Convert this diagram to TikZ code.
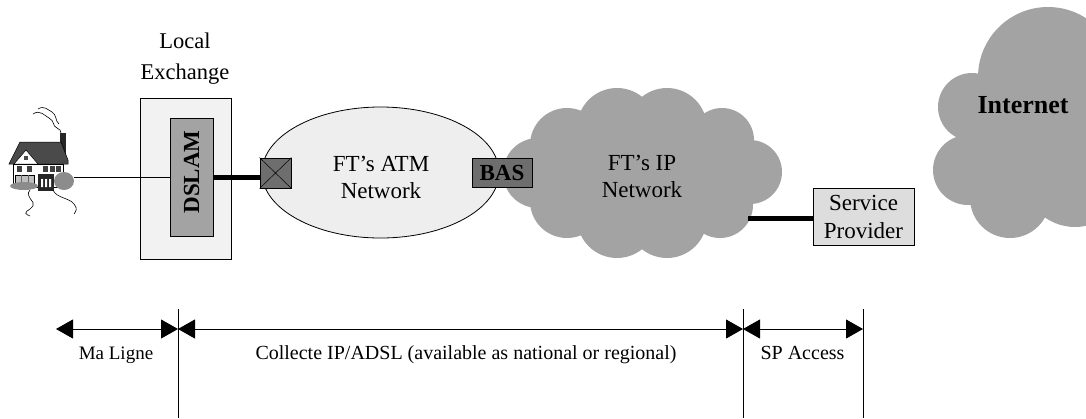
\documentclass[tikz,border=0pt]{standalone}
\usepackage{fontspec}
\setmainfont{Liberation Serif}
\usetikzlibrary{arrows.meta,shapes.geometric}

\definecolor{exfill}{HTML}{F2F2F2}
\definecolor{midgray}{HTML}{A3A3A3}
\definecolor{darkbox}{HTML}{6E6E6E}
\definecolor{atmfill}{HTML}{EEEEEE}
\definecolor{spfill}{HTML}{DDDDDD}
\definecolor{roofgray}{HTML}{4A4A4A}
\definecolor{bushgray}{HTML}{8C8C8C}

\begin{document}
\begin{tikzpicture}[x=1pt,y=-1pt,
  txt/.style={font=\fontsize{23}{27}\selectfont, align=center, inner sep=0pt},
  boldtxt/.style={font=\fontsize{23}{27}\selectfont\bfseries, inner sep=0pt},
  dimlbl/.style={font=\fontsize{20}{24}\selectfont, inner sep=0pt, anchor=base},
  box/.style={draw=black, line width=0.8pt, inner sep=0pt},
  thinwire/.style={line width=1pt},
  thickwire/.style={line width=5pt},
  dim/.style={line width=1pt, {Triangle[length=17pt,width=19pt]}-{Triangle[length=17pt,width=19pt]}},
  cloudfill/.style={fill=midgray},
]
\useasboundingbox (0,0) rectangle (1086,418);
\clip (0,0) rectangle (1086,418);

% ---------- customer premises ----------
\begin{scope}
  % smoke from the chimney
  \draw[line width=0.6pt] (33,114) .. controls (40,109) and (45,116) .. (49,118)
        .. controls (55,121) and (52,126) .. (57,128) .. controls (60,129) and (61,131) .. (61,133);
  \draw[line width=0.6pt] (38,109) .. controls (44,105) and (48,110) .. (52,112)
        .. controls (57,115) and (55,121) .. (59,124);
  % chimney
  \fill[black!85] (60,133) rectangle (66,156);
  % roof
  \filldraw[fill=roofgray, draw=black, line width=0.5pt] (9,164) -- (20,142) -- (61,142) -- (68,160) -- (68,164) -- cycle;
  % front gable
  \filldraw[fill=white, draw=black, line width=0.5pt] (14,164) -- (26,150) -- (38,164) -- cycle;
  \fill[black!70] (24,156) rectangle (28,160);
  % walls
  \filldraw[fill=white, draw=black, line width=0.5pt] (13,164) rectangle (63,187);
  % upper windows
  \foreach \wx in {17,27,43,50,56} \fill[black!75] (\wx,166) rectangle ++(5,6);
  % bay window
  \filldraw[fill=black!25, draw=black, line width=0.6pt] (15,175) rectangle (34,187);
  \draw[black!60, line width=0.4pt] (21,175) -- (21,187) (28,175) -- (28,187);
  % porch and door
  \fill[black!85] (38,174) rectangle (54,191);
  \fill[white] (41,179) rectangle (43,187) (45,179) rectangle (47,187) (49,179) rectangle (51,187);
  % shrubs
  \fill[bushgray] (24,186) ellipse (14pt and 4pt);
  \fill[bushgray] (64,181) ellipse (10pt and 9pt);
  % garden paths
  \draw[line width=0.6pt] (30,190) .. controls (24,197) and (36,201) .. (33,206)
        .. controls (30,211) and (20,212) .. (30,216);
  \draw[line width=0.6pt] (53,190) .. controls (56,198) and (70,198) .. (74,204)
        .. controls (78,209) and (76,211) .. (74,214);
  \coordinate (house) at (74,177.5);
\end{scope}

% ---------- local exchange ----------
\node[txt, font=\fontsize{22.5}{31}\selectfont] (exlbl) at (185,59) {Local\\Exchange};
\node[box, fill=exfill, minimum width=91pt, minimum height=161pt] (exchange) at (185.5,178.5) {};
\node[box, fill=midgray, minimum width=43pt, minimum height=118pt] (dslam) at (191.5,177) {};
\node[boldtxt, rotate=90] (dslamlbl) at (191.5,172) {DSLAM};

% ---------- FT's IP network cloud ----------
\begin{scope}[cloudfill]
  \fill (538,173) circle (35pt);
  \fill (567,145) circle (37pt);
  \fill (617,128) circle (40pt);
  \fill (667,128) circle (40pt);
  \fill (722,140) circle (32pt);
  \fill (750,172) circle (32pt);
  \fill (720,205) circle (33pt);
  \fill (667,218) circle (40pt);
  \fill (617,218) circle (40pt);
  \fill (567,201) circle (37pt);
  \fill (545,140) rectangle (740,205);
\end{scope}
\node[txt] (iplbl) at (642,176.7) {FT’s IP\\Network};

% ---------- FT's ATM network ----------
\node[ellipse, draw=black, line width=0.8pt, fill=atmfill, minimum width=237pt, minimum height=131pt, inner sep=0pt] (atm) at (380.5,172.5) {};
\node[txt] (atmlbl) at (381,177.7) {FT’s ATM\\Network};
\node[box, fill=darkbox, minimum width=31pt, minimum height=30pt] (atmport) at (275.5,173) {};
\draw[line width=0.5pt] (atmport.north west) -- (atmport.south east)
                        (atmport.south west) -- (atmport.north east);
\node[box, fill=darkbox, minimum width=60pt, minimum height=29pt, font=\fontsize{23}{27}\selectfont\bfseries] (bas) at (502,172.5) {BAS};

% ---------- service provider ----------
\node[box, fill=spfill, minimum width=101pt, minimum height=57pt, align=center,
      font=\fontsize{23}{28}\selectfont] (sp) at (863.5,216.5) {Service\\Provider};
\coordinate (ipedge) at (748,218.5);

% ---------- Internet cloud ----------
\begin{scope}[cloudfill]
  \fill (968,170) circle (35pt);
  \fill (972,107) circle (34pt);
  \fill (1048,77) circle (70pt);
  \fill (1010,198) circle (40pt);
  \fill (1075,175) circle (52pt);
  \fill (980,100) rectangle (1090,210);
\end{scope}
\node[font=\fontsize{26}{30}\selectfont\bfseries, inner sep=0pt, anchor=base] (inet) at (1023,113) {Internet};

% ---------- links ----------
\draw[thinwire] (house) -- (house -| dslam.west);
\draw[thickwire] (dslam.east |- house) -- (atmport.west |- house);
\draw[thickwire] (ipedge) -- (ipedge -| sp.west);

% ---------- service span dimensions ----------
\coordinate (d0) at (56,329);
\coordinate (d1) at (178,329);
\coordinate (d2) at (743,329);
\coordinate (d3) at (863,329);
\foreach \d in {d1,d2,d3} {
  \draw[thinwire] ([yshift=20pt]\d) -- ([yshift=-89pt]\d);
}
\draw[dim] (d0) -- (d1);
\draw[dim] (d1) -- (d2);
\draw[dim] (d2) -- (d3);
\node[dimlbl, font=\fontsize{19}{23}\selectfont] (malbl) at (116,359.5) {Ma Ligne};
\node[dimlbl] (collbl) at (466,359.5) {Collecte IP/ADSL (available as national or regional)};
\node[dimlbl] (splbl) at (802.5,359.5) {SP Access};
\end{tikzpicture}
\end{document}
